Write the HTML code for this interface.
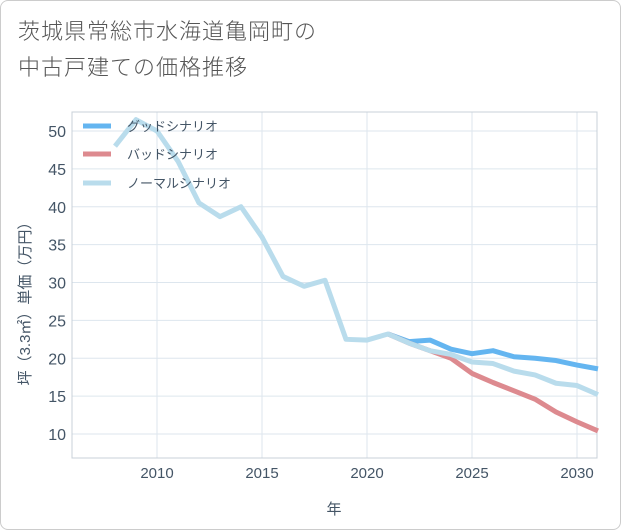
<!DOCTYPE html>
<html><head><meta charset="utf-8"><style>
body{margin:0;background:#fff;font-family:"Liberation Sans","Noto Sans CJK JP",sans-serif;}
#wrap{position:relative;width:619px;height:528px;border:1px solid #ccc;border-radius:8px;overflow:hidden}
#title{position:absolute;left:17px;top:13px;font-size:22px;line-height:36px;color:#555;letter-spacing:1px;font-weight:300}
</style></head><body>
<div id="wrap">
<div id="title">茨城県常総市水海道亀岡町の<br>中古戸建ての価格推移</div>
<svg id="chart" width="621" height="530" style="position:absolute;left:-1px;top:-1px"></svg>
</div>
<script>
const years=[2008,2009,2010,2011,2012,2013,2014,2015,2016,2017,2018,2019,2020,2021,2022,2023,2024,2025,2026,2027,2028,2029,2030,2031];
const normal=[48,51.5,50,46,40.5,38.7,40,36,30.8,29.5,30.3,22.5,22.4,23.2,22,21,20.5,19.5,19.3,18.3,17.8,16.7,16.4,15.2];
const futureYears=[2021,2022,2023,2024,2025,2026,2027,2028,2029,2030,2031];
const good=[23.2,22.2,22.4,21.2,20.6,21.0,20.2,20.0,19.7,19.1,18.6];
const bad=[23.2,22,21,20,18,16.8,15.7,14.6,12.9,11.6,10.4];
const xTicks=[2010,2015,2020,2025,2030];
const yTicks=[10,15,20,25,30,35,40,45,50];
const NS='http://www.w3.org/2000/svg';
const svg=document.getElementById('chart');
const X=y=>157+(y-2010)*21;
const Y=v=>131+(50-v)*7.575;
function mk(t,a){const e=document.createElementNS(NS,t);for(const k in a)e.setAttribute(k,a[k]);svg.appendChild(e);return e;}
xTicks.forEach(t=>{const l=mk('line',{x1:X(t),x2:X(t),y1:112,y2:458,stroke:'#dde6ee'});


const tx=mk('text',{x:X(t),y:478,'text-anchor':'middle','font-size':15,fill:'#456'});tx.textContent=t;

});
yTicks.forEach(t=>{const l=mk('line',{x1:72,x2:597,y1:Y(t),y2:Y(t),stroke:'#dde6ee'});


const tx=mk('text',{x:66,y:Y(t)+6,'text-anchor':'end','font-size':16,fill:'#456'});tx.textContent=t;

});
let r=mk('rect',{x:72,y:112,width:525,height:346,fill:'none',stroke:'#c8d0d8'});


let xt=mk('text',{x:334,y:514,'text-anchor':'middle','font-size':15,fill:'#456'});xt.textContent='年';


let yt=mk('text',{x:0,y:0,'text-anchor':'middle','font-size':15,fill:'#456',transform:'translate(30,300) rotate(-90)'});yt.textContent='坪（3.3㎡）単価（万円）';


function line(xs,vs,c,name){const p=mk('polyline',{points:xs.map((y,i)=>X(y)+','+Y(vs[i])).join(' '),fill:'none',stroke:c,'stroke-width':5,'stroke-linejoin':'round'});

}
line(futureYears,good,'#64b5f0','good-scenario-line');
line(futureYears,bad,'#dd8a8f','bad-scenario-line');
line(years,normal,'#b9dcec','normal-scenario-line');
[['グッドシナリオ','#64b5f0',126],['バッドシナリオ','#dd8a8f',154],['ノーマルシナリオ','#b9dcec',183]].forEach(([n,c,y])=>{
const l=mk('line',{x1:83,x2:111,y1:y,y2:y,stroke:c,'stroke-width':5});


const t=mk('text',{x:127,y:y+5,'font-size':13,fill:'#456'});t.textContent=n;

});
</script>
</body></html>
